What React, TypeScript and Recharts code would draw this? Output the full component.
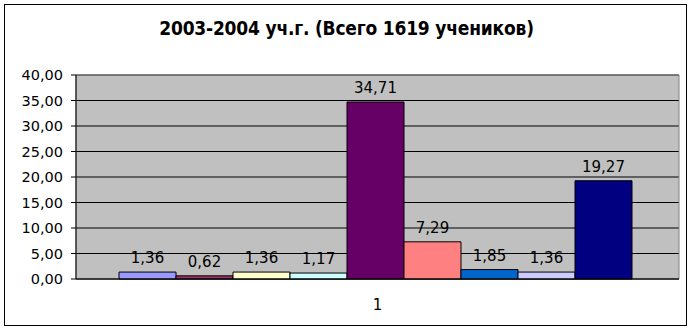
import { BarChart, Bar, XAxis, YAxis, CartesianGrid, ReferenceArea, LabelList } from 'recharts'

const categories = ['1']
const seriesKeys = ['s1', 's2', 's3', 's4', 's5', 's6', 's7', 's8', 's9']
const seriesValues = [1.36, 0.62, 1.36, 1.17, 34.71, 7.29, 1.85, 1.36, 19.27]
const seriesColors = ['#9999FF', '#993366', '#FFFFCC', '#CCFFFF', '#660066', '#FF8080', '#0066CC', '#CCCCFF', '#000080']
const yTicks = [0, 5, 10, 15, 20, 25, 30, 35, 40]

const data = categories.map((name) => {
  const row: Record<string, string | number> = { name }
  seriesKeys.forEach((k, i) => {
    row[k] = seriesValues[i]
  })
  return row
})

const fmt = (v: number) => v.toFixed(2).replace('.', ',')
const font = '"DejaVu Sans", Verdana, sans-serif'

export default function App() {
  return (
    <div style={{ position: 'absolute', left: 0, top: 0, width: 693, height: 331, background: '#fff' }}>
      <div
        style={{
          position: 'absolute',
          left: 4,
          top: 4,
          width: 683,
          height: 322,
          border: '1px solid #000',
          boxSizing: 'border-box',
        }}
      />
      <div
        style={{
          position: 'absolute',
          left: 0,
          top: 17,
          width: 693,
          textAlign: 'center',
          fontFamily: '"DejaVu Sans Condensed", "DejaVu Sans", sans-serif',
          fontWeight: 'bold',
          fontSize: 19,
          letterSpacing: -0.2,
          color: '#000',
        }}
      >
        2003-2004 уч.г. (Всего 1619 учеников)
      </div>
      <BarChart
        width={693}
        height={331}
        data={data}
        margin={{ top: 75, right: 14, left: 0, bottom: 22 }}
        barCategoryGap={43}
        barGap={0}
        style={{ position: 'absolute', left: 0, top: 0 }}
      >
        <CartesianGrid vertical={false} stroke="#000" fill="#C0C0C0" fillOpacity={1} />
        <ReferenceArea y1={0} y2={40} fill="none" stroke="#808080" strokeWidth={1} />
        <XAxis
          dataKey="name"
          axisLine={{ stroke: '#000' }}
          tickLine={false}
          tickSize={0}
          tickMargin={20}
          height={30}
          tick={{ fill: '#000', fontSize: 15, fontFamily: font }}
        />
        <YAxis
          domain={[0, 40]}
          ticks={yTicks}
          width={76}
          interval={0}
          tickFormatter={fmt}
          axisLine={{ stroke: '#000' }}
          tickLine={{ stroke: '#000' }}
          tickSize={5}
          tickMargin={8}
          tick={{ fill: '#000', fontSize: 14.5, fontFamily: font }}
        />
        {seriesKeys.map((k, i) => (
          <Bar
            key={k}
            dataKey={k}
            fill={seriesColors[i]}
            stroke="#000"
            strokeWidth={1}
            isAnimationActive={false}
          >
            <LabelList
              dataKey={k}
              position="top"
              offset={9}
              formatter={(v: any) => fmt(Number(v))}
              style={{ fill: '#000', fontSize: 15, fontFamily: font }}
            />
          </Bar>
        ))}
      </BarChart>
    </div>
  )
}
